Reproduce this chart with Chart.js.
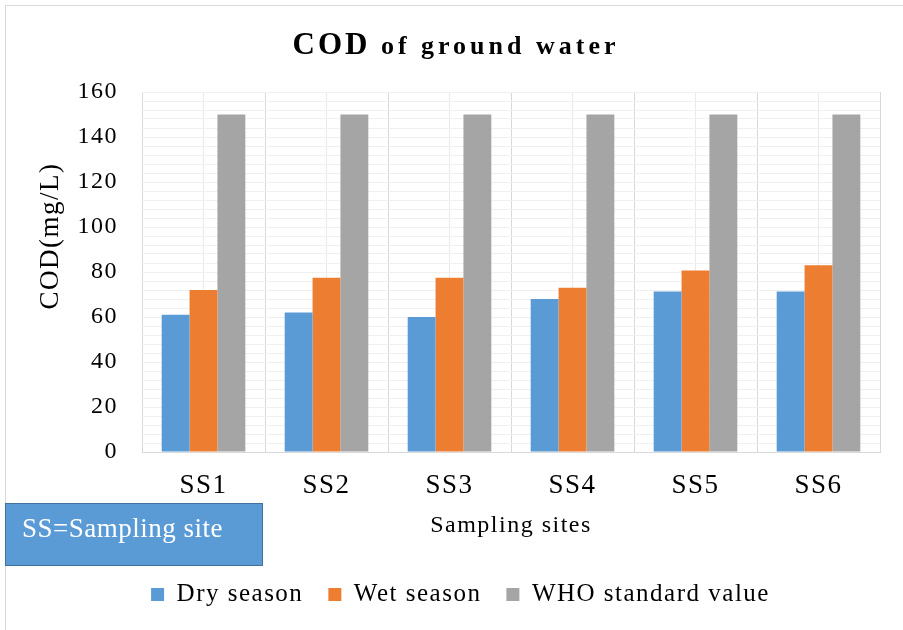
<!DOCTYPE html>
<html>
<head>
<meta charset="utf-8">
<script src="https://cdn.jsdelivr.net/npm/chart.js@4.4.1/dist/chart.umd.min.js"></script>
<style>
  html, body { margin: 0; padding: 0; background: #fff; }
  #wrap { width: 903px; height: 630px; }
</style>
</head>
<body>
<div id="wrap"><canvas id="c" width="903" height="630"></canvas></div>
<script>
const SITES = ['SS1', 'SS2', 'SS3', 'SS4', 'SS5', 'SS6'];
const DRY = [61, 62, 60, 68, 71.3, 71.3];
const WET = [72, 77.5, 77.5, 73, 80.7, 83];
const WHO = [150, 150, 150, 150, 150, 150];
const Y_MAX = 160;

const SERIF = "'Liberation Serif', 'Times New Roman', serif";

// the original text looks slightly stretched, so add a bit of letter spacing
const spacing = {
  id: 'spacing',
  beforeUpdate(chart) { chart.ctx.letterSpacing = '1.5px'; },
  beforeDraw(chart) { chart.ctx.letterSpacing = '1.5px'; }
};

// title, y title, info box, outer frame
const extras = {
  id: 'extras',
  afterDraw(chart) {
    const ctx = chart.ctx;
    ctx.save();
    ctx.fillStyle = '#000';

    // frame
    ctx.strokeStyle = '#D9D9D9';
    ctx.lineWidth = 1;
    ctx.strokeRect(5.5, 5.5, 1000, 1000);

    // title
    ctx.textBaseline = 'alphabetic';
    ctx.textAlign = 'left';
    ctx.font = 'bold 31px ' + SERIF;
    ctx.letterSpacing = '3px';
    const w1 = ctx.measureText('COD').width;
    ctx.font = 'bold 26px ' + SERIF;
    ctx.letterSpacing = '4px';
    const w2 = ctx.measureText(' of ground water').width;
    let x = 456 - (w1 + w2) / 2;
    ctx.font = 'bold 31px ' + SERIF;
    ctx.letterSpacing = '3px';
    ctx.fillText('COD', x, 54);
    ctx.font = 'bold 26px ' + SERIF;
    ctx.letterSpacing = '4px';
    ctx.fillText(' of ground water', x + w1, 54);

    // y axis title
    ctx.save();
    ctx.translate(51, 236);
    ctx.rotate(-Math.PI / 2);
    ctx.font = '27px ' + SERIF;
    ctx.letterSpacing = '1.5px';
    ctx.textAlign = 'center';
    ctx.textBaseline = 'middle';
    ctx.fillText('COD(mg/L)', 0, 0);
    ctx.restore();

    // info box
    ctx.fillStyle = '#5B9BD5';
    ctx.fillRect(5, 503, 257, 62);
    ctx.strokeStyle = '#41719C';
    ctx.strokeRect(5.5, 503.5, 257, 62);
    ctx.fillStyle = '#fff';
    ctx.font = '27px ' + SERIF;
    ctx.letterSpacing = '0.5px';
    ctx.textAlign = 'left';
    ctx.textBaseline = 'alphabetic';
    ctx.fillText('SS=Sampling site', 22, 537);

    ctx.restore();
  }
};

new Chart(document.getElementById('c'), {
  type: 'bar',
  data: {
    labels: SITES,
    datasets: [
      { label: 'Dry season', data: DRY, backgroundColor: '#5B9BD5' },
      { label: 'Wet season', data: WET, backgroundColor: '#ED7D31' },
      { label: 'WHO standard value', data: WHO, backgroundColor: '#A5A5A5' }
    ]
  },
  options: {
    responsive: false,
    animation: false,
    devicePixelRatio: 1,
    categoryPercentage: 0.68,
    barPercentage: 1.0,
    layout: { padding: { top: 92, right: 0, left: 18, bottom: 13 } },
    scales: {
      x: {
        offset: true,
        grid: { offset: true, color: '#D9D9D9', drawTicks: false },
        border: { color: '#D9D9D9' },
        ticks: { color: '#000', font: { family: SERIF, size: 27 }, padding: 18 },
        title: {
          display: true, text: 'Sampling sites', color: '#000',
          font: { family: SERIF, size: 24 }, padding: { top: 0, bottom: 17 }
        },
        afterFit(s) { s.height = 105; }
      },
      x2: {
        type: 'category',
        position: 'bottom',
        offset: true,
        z: -1,
        grid: { offset: false, color: '#EAEAEA', drawTicks: false },
        border: { display: false },
        ticks: { display: false },
        afterFit(s) { s.height = 0; }
      },
      y: {
        min: 0, max: Y_MAX,
        ticks: { stepSize: 20, color: '#000', font: { family: SERIF, size: 24 }, padding: 24 },
        grid: { color: '#D9D9D9', drawTicks: false },
        border: { display: false },
        afterFit(s) { s.width = 124; }
      },
      y2: {
        min: 0, max: Y_MAX,
        position: 'left',
        z: -1,
        ticks: { stepSize: 4, display: false },
        grid: { color: '#F0F0F0', drawTicks: false },
        border: { display: false },
        afterFit(s) { s.width = 0; }
      },
      // empty strip on the right so the legend centres like the original
      yRight: {
        min: 0, max: Y_MAX,
        position: 'right',
        ticks: { display: false },
        grid: { display: false },
        border: { display: false },
        afterFit(s) { s.width = 23; }
      }
    },
    plugins: {
      title: { display: false },
      tooltip: { enabled: false },
      legend: {
        position: 'bottom',
        labels: {
          color: '#000',
          font: { family: SERIF, size: 25 },
          boxWidth: 13, boxHeight: 13,
          padding: 25
        }
      }
    }
  },
  plugins: [spacing, extras]
});
</script>
</body>
</html>
